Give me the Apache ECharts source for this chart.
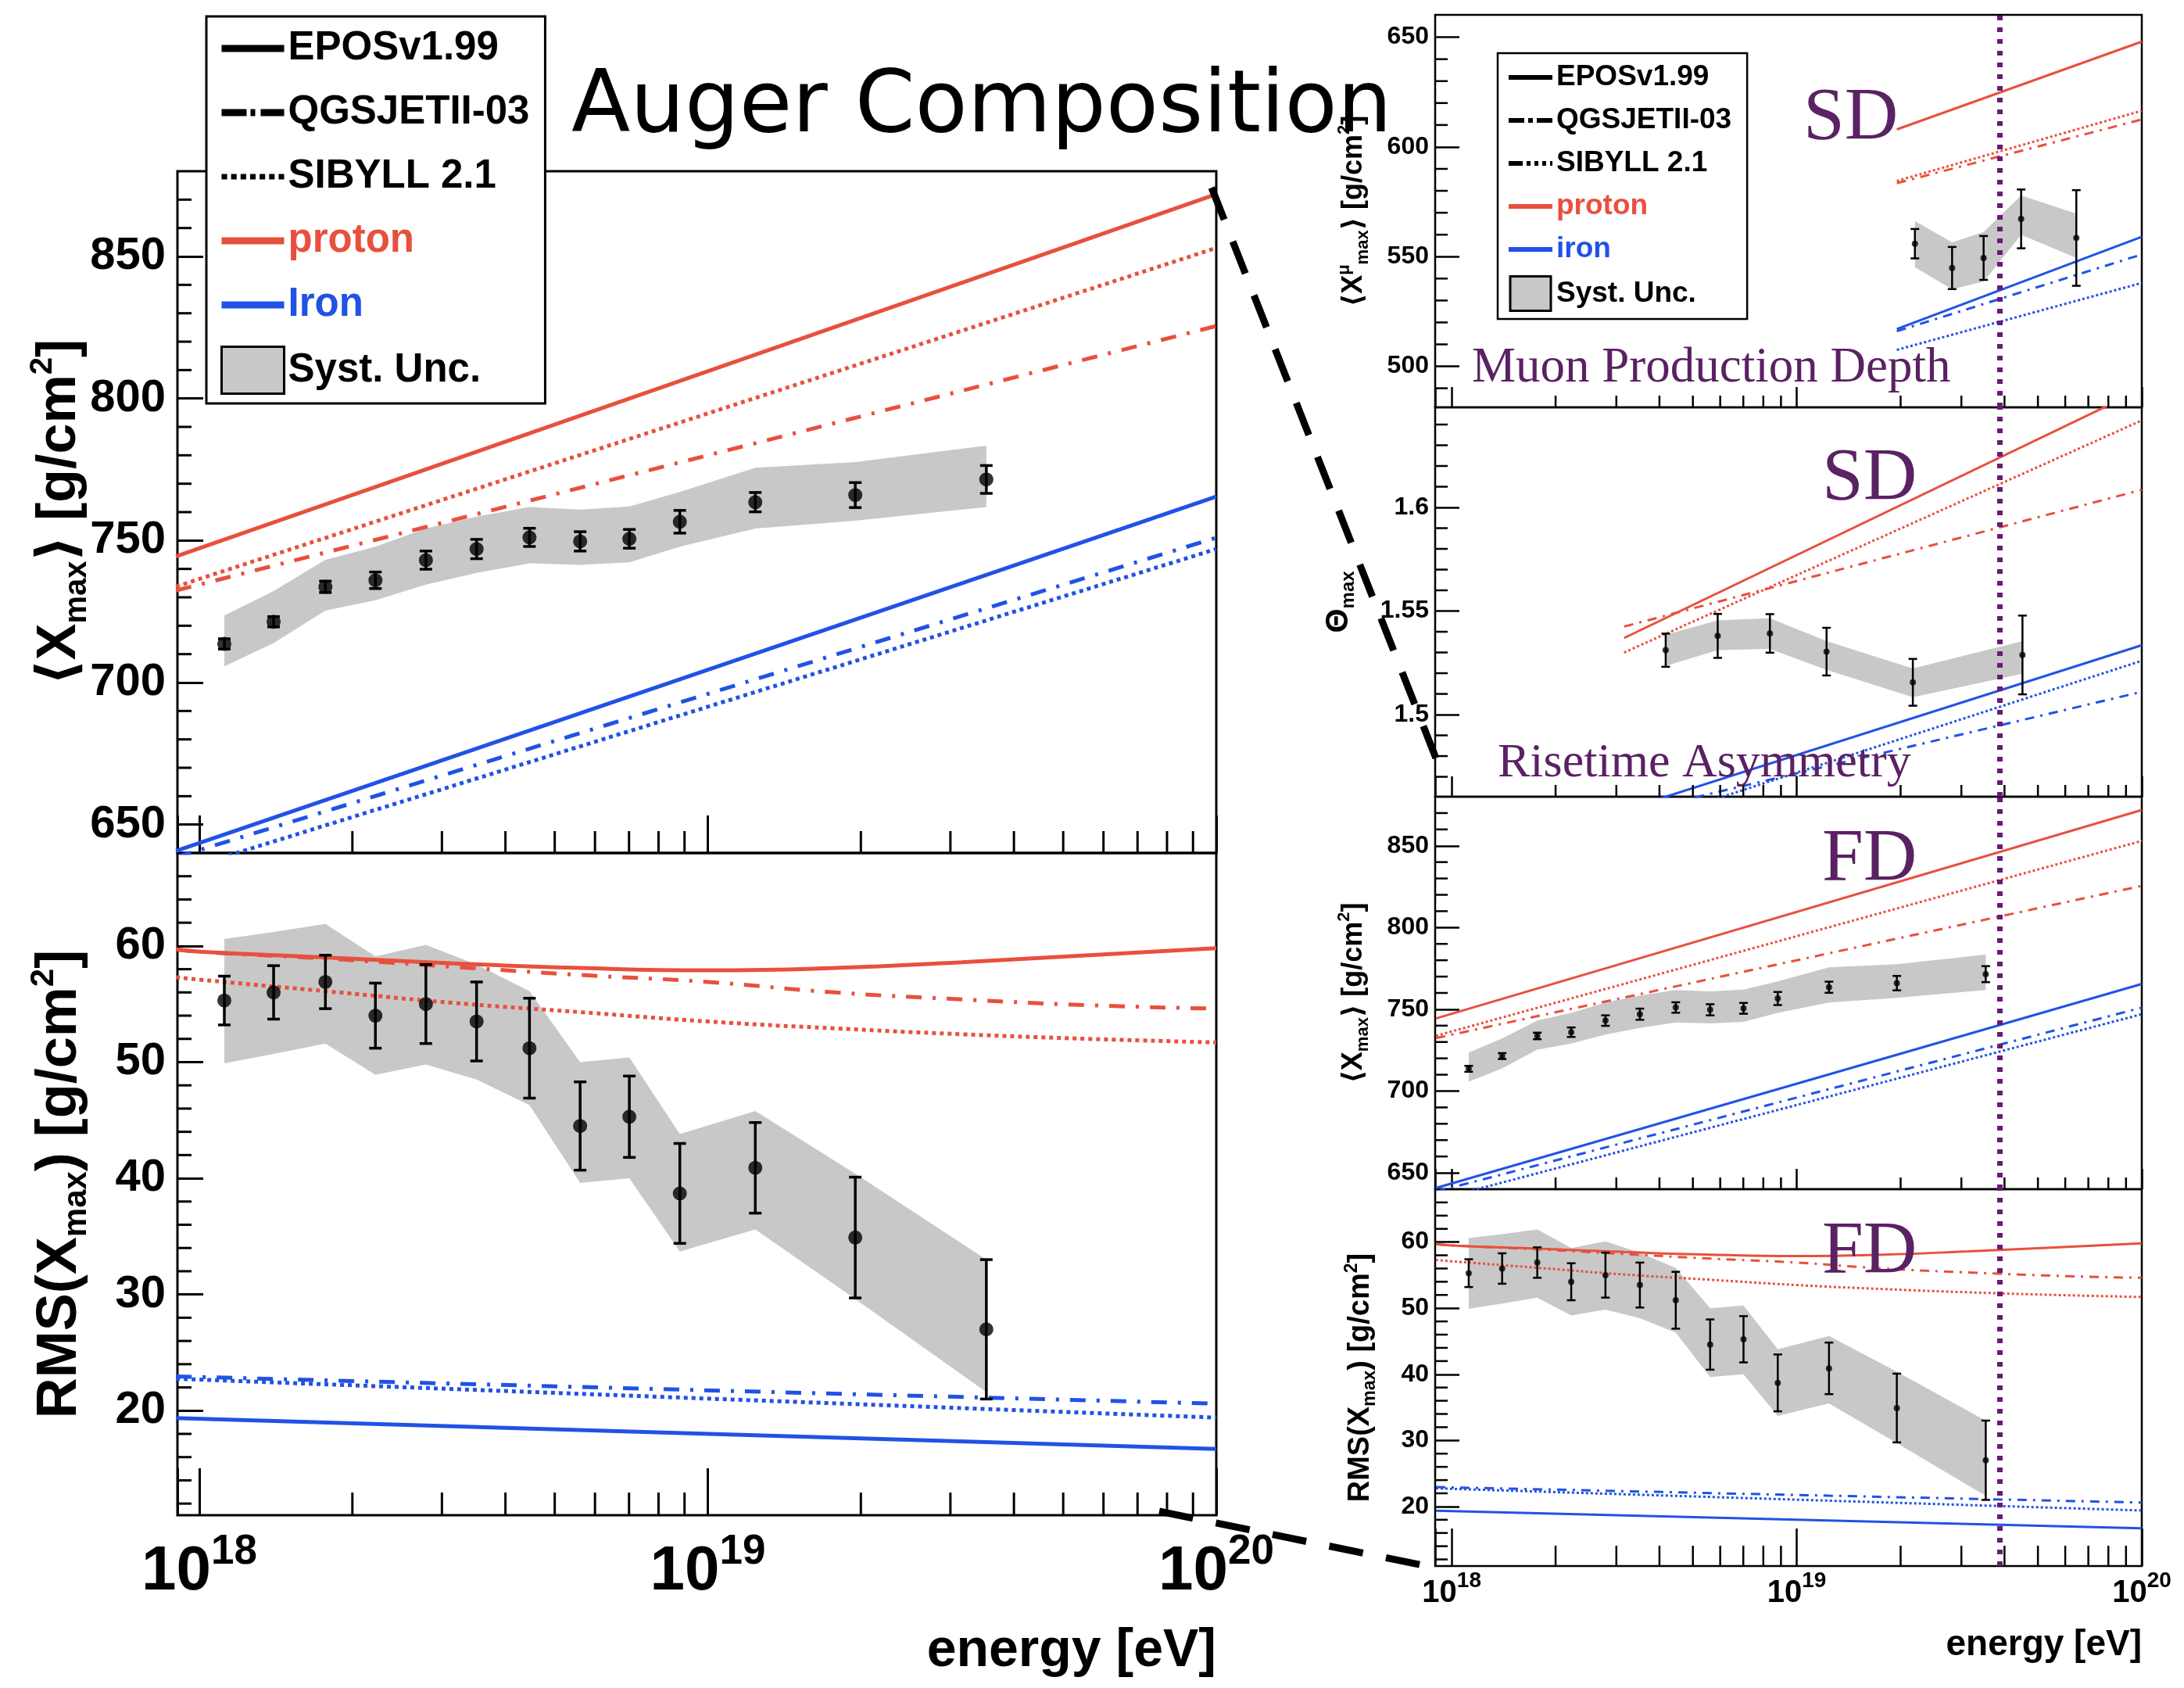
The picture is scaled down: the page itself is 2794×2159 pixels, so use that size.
<!DOCTYPE html>
<html>
<head>
<meta charset="utf-8">
<title>Auger Composition</title>
<script src="https://cdn.jsdelivr.net/npm/echarts@6.0.0/dist/echarts.min.js"></script>
<style>
html, body { margin:0; padding:0; background:#ffffff; }
#chart { width:2794px; height:2159px; }
</style>
</head>
<body>
<div id="chart"></div>
<script>
// ================= DATA =================
// FD energy bins [eV]
const fdEnergy = [1.12e18, 1.40e18, 1.77e18, 2.22e18, 2.79e18, 3.51e18, 4.46e18, 5.61e18, 7.01e18, 8.81e18, 1.24e19, 1.95e19, 3.53e19];
// <Xmax> [g/cm2]
const xmaxMean  = [713.6, 721.4, 733.7, 736.0, 743.1, 747.0, 751.1, 749.7, 750.6, 756.6, 763.5, 766.0, 771.5];
const xmaxStat  = [1.8, 1.8, 2.0, 2.9, 3.2, 3.4, 3.2, 3.4, 3.3, 4.0, 3.4, 4.4, 4.9];
const xmaxSysUp = [723.6, 732.2, 743.2, 747.8, 754.2, 758.4, 761.8, 760.9, 762.0, 767.1, 775.6, 777.6, 783.4];
const xmaxSysLo = [705.7, 713.9, 725.3, 729.0, 734.5, 738.6, 742.0, 741.4, 742.3, 747.8, 754.2, 757.0, 761.8];
// RMS(Xmax) [g/cm2]
const rmsMean  = [55.3, 56.0, 56.9, 54.0, 55.0, 53.5, 51.2, 44.5, 45.3, 38.7, 40.9, 34.9, 27.0];
const rmsStat  = [2.1, 2.3, 2.3, 2.8, 3.4, 3.4, 4.3, 3.8, 3.5, 4.3, 3.9, 5.2, 6.0];
const rmsSysUp = [60.6, 61.2, 61.9, 59.1, 60.1, 58.4, 56.1, 50.0, 50.4, 43.8, 45.8, 40.4, 33.0];
const rmsSysLo = [49.9, 50.7, 51.6, 48.9, 49.8, 48.5, 46.3, 39.6, 40.0, 33.7, 35.6, 29.6, 21.6];
// SD muon production depth <Xmax^mu> [g/cm2]
const mpdEnergy = [2.20e19, 2.82e19, 3.48e19, 4.47e19, 6.46e19];
const mpdMean   = [555.9, 544.8, 549.4, 567.2, 558.5];
const mpdStat   = [6.7, 9.6, 10.0, 13.4, 21.8];
const mpdSysUp  = [566.2, 556.5, 561.2, 577.9, 569.6];
const mpdSysLo  = [545.2, 535.1, 538.7, 560.0, 549.4];
// SD risetime asymmetry Theta_max
const riseEnergy = [4.17e18, 5.90e18, 8.36e18, 1.22e19, 2.17e19, 4.51e19];
const riseMean   = [1.5311, 1.5380, 1.5392, 1.5304, 1.5156, 1.5288];
const riseStat   = [0.008, 0.0106, 0.0093, 0.0115, 0.0113, 0.019];
const riseSysUp  = [1.5386, 1.5455, 1.5465, 1.5355, 1.5223, 1.5355];
const riseSysLo  = [1.5235, 1.5311, 1.5317, 1.5216, 1.5084, 1.5197];

// Model predictions
const modelEnergy = [9.0e17, 1e20];
const xmaxProtonEPOS   = [744.4, 871.9];
const xmaxProtonQGSJET = [732.4, 825.5];
const xmaxProtonSIBYLL = [733.8, 853.0];
const xmaxIronEPOS     = [640.7, 765.5];
const xmaxIronQGSJET   = [638.5, 751.0];
const xmaxIronSIBYLL   = [633.4, 747.0];

const rmsModelEnergy  = [9.0e17, 1e18, 1.78e18, 3.16e18, 5.62e18, 1e19, 1.78e19, 3.16e19, 5.62e19, 1e20];
const rmsProtonEPOS   = [59.7, 59.5, 59.0, 58.5, 58.1, 57.9, 58.1, 58.6, 59.2, 59.8];
const rmsProtonQGSJET = [59.7, 59.5, 58.9, 58.2, 57.5, 56.9, 56.0, 55.4, 54.9, 54.6];
const rmsProtonSIBYLL = [57.3, 57.1, 56.1, 55.1, 54.3, 53.5, 52.9, 52.4, 52.0, 51.7];
const rmsIronEPOS     = [19.36, 16.7];
const rmsIronQGSJET   = [22.95, 20.6];
const rmsIronSIBYLL   = [22.75, 19.4];

const mpdModelEnergy  = [1.95e19, 1e20];
const mpdProtonEPOS   = [608.0, 648.0];
const mpdProtonQGSJET = [583.5, 612.5];
const mpdProtonSIBYLL = [584.5, 616.5];
const mpdIronEPOS     = [517.0, 559.0];
const mpdIronQGSJET   = [516.0, 551.0];
const mpdIronSIBYLL   = [507.5, 538.0];

const riseModelEnergy  = [3.16e18, 1e20];
const riseProtonEPOS   = [1.537, 1.657];
const riseProtonQGSJET = [1.5425, 1.6085];
const riseProtonSIBYLL = [1.530, 1.642];
const riseIronEPOS     = [1.454, 1.5335];
const riseIronQGSJET   = [1.452, 1.511];
const riseIronSIBYLL   = [1.445, 1.526];

// vertical energy line on the right panels [eV]
const energyCut = 3.88e19;

// tick values
const energyMinorTicks = [2e18, 3e18, 4e18, 5e18, 6e18, 7e18, 8e18, 9e18, 2e19, 3e19, 4e19, 5e19, 6e19, 7e19, 8e19, 9e19];
const xmaxMinorTicks = [660, 670, 680, 690, 710, 720, 730, 740, 760, 770, 780, 790, 810, 820, 830, 840, 860, 870];
const rmsMinorTicks  = [12, 14, 16, 18, 22, 24, 26, 28, 32, 34, 36, 38, 42, 44, 46, 48, 52, 54, 56, 58, 62, 64, 66];
const mpdMinorTicks  = [490, 510, 520, 530, 540, 560, 570, 580, 590, 610, 620, 630, 640];
const riseMinorTicks = [1.47, 1.48, 1.49, 1.51, 1.52, 1.53, 1.54, 1.56, 1.57, 1.58, 1.59, 1.61, 1.62, 1.63, 1.64];

// ================= STYLE =================
const FONT = "'Liberation Sans', Arial, Helvetica, 'DejaVu Sans', sans-serif";
const NARROW = "'Liberation Sans Narrow', 'Liberation Sans', Arial, sans-serif";
const SERIF = "'Liberation Serif', 'Times New Roman', serif";
const RED = '#e8503e', BLUE = '#2152e6', BAND = '#c8c8c8', CUTC = '#6b1a78', PURPLE = '#5a2163';
const E_MAX = 1e20;
const X_MIN_L = Math.pow(10, 17.957);
const X_MIN_R = Math.pow(10, 17.952);

const ST_L = {lineW: 5, dot: [5, 5], dashdot: [20, 14, 4, 14], marker: 18, errW: 3.5, cap: 16, tickW: 3, frame: 3};
const ST_R = {lineW: 3, dot: [3, 3], dashdot: [12, 8, 3, 8], marker: 8, errW: 2.5, cap: 11, tickW: 2.5, frame: 2.5};

function richName(size, sub, lh) {
  const b = {fontFamily: FONT, fontWeight: 'bold', color: '#000'};
  return {
    t: Object.assign({fontSize: size, lineHeight: lh}, b),
    s: Object.assign({fontSize: sub, lineHeight: sub, verticalAlign: 'bottom'}, b),
    p: Object.assign({fontSize: sub, lineHeight: sub, verticalAlign: 'top'}, b)
  };
}
function powLabel(v) {
  const l = Math.log10(v);
  const n = Math.round(l);
  if (Math.abs(l - n) > 1e-4) return '';
  return '{b|10}{e|' + n + '}';
}
function bandItem(band) {
  return function (params, api) {
    if (params.dataIndex !== 0) return null;
    const up = band.e.map((e, k) => api.coord([e, band.hi[k]]));
    const dn = band.e.map((e, k) => api.coord([e, band.lo[k]])).reverse();
    return {type: 'polygon', shape: {points: up.concat(dn)}, style: {fill: BAND}};
  };
}
function errItem(st) {
  return function (params, api) {
    const x = api.value(0);
    const a = api.coord([x, api.value(1)]);
    const b = api.coord([x, api.value(2)]);
    const h = st.cap / 2;
    const s = () => ({stroke: '#000', lineWidth: st.errW});
    return {type: 'group', children: [
      {type: 'line', shape: {x1: a[0], y1: a[1], x2: b[0], y2: b[1]}, style: s()},
      {type: 'line', shape: {x1: a[0] - h, y1: a[1], x2: a[0] + h, y2: a[1]}, style: s()},
      {type: 'line', shape: {x1: b[0] - h, y1: b[1], x2: b[0] + h, y2: b[1]}, style: s()}
    ]};
  };
}

const grids = [], xAxes = [], yAxes = [], series = [];

function panel(cfg) {
  const i = grids.length;
  const st = cfg.st;
  grids.push({left: cfg.rect[0], top: cfg.rect[1], width: cfg.rect[2], height: cfg.rect[3],
    show: true, borderColor: '#000', borderWidth: st.frame, backgroundColor: 'rgba(0,0,0,0)',
    containLabel: false, outerBoundsMode: 'none'});

  const xa = {
    type: 'log', logBase: 10, gridIndex: i, min: cfg.xMin, max: E_MAX, splitNumber: 10,
    axisLine: {show: false}, splitLine: {show: false}, minorTick: {show: false},
    axisTick: {show: true, inside: true, length: cfg.xTick[0], lineStyle: {color: '#000', width: st.tickW}},
    axisLabel: {show: false}
  };
  if (cfg.xLab) {
    xa.axisLabel = {
      show: true, margin: cfg.xLab.margin, formatter: powLabel, showMinLabel: true, showMaxLabel: true,
      rich: {
        b: {fontSize: cfg.xLab.size, lineHeight: cfg.xLab.lh, fontWeight: 'bold', fontFamily: NARROW, color: '#000'},
        e: {fontSize: cfg.xLab.sup, lineHeight: cfg.xLab.sup, verticalAlign: 'top', fontWeight: 'bold', fontFamily: NARROW, color: '#000'}
      }
    };
    xa.name = 'energy [eV]';
    xa.nameLocation = 'end';
    xa.nameGap = 0;
    xa.nameMoveOverlap = false;
    xa.nameTextStyle = {fontSize: cfg.xLab.nameSize, lineHeight: cfg.xLab.nameSize, fontWeight: 'bold', fontFamily: FONT, color: '#000',
      align: 'right', verticalAlign: 'top', padding: [cfg.xLab.namePad, 0, 0, 0]};
  }
  xAxes.push(xa);

  yAxes.push({
    type: 'value', gridIndex: i, min: cfg.y[0], max: cfg.y[1], splitNumber: cfg.split,
    axisLine: {show: false}, splitLine: {show: false},
    axisTick: {show: true, inside: true, length: cfg.yTick[0], lineStyle: {color: '#000', width: st.tickW}},
    axisLabel: {show: true, margin: cfg.yLab.margin, fontSize: cfg.yLab.size, fontWeight: 'bold', fontFamily: FONT, color: '#000',
      showMinLabel: false, showMaxLabel: false},
    name: cfg.yName.text, nameLocation: 'middle', nameGap: cfg.yName.gap, nameMoveOverlap: false,
    nameTextStyle: {rich: cfg.yName.rich}
  });

  const base = {xAxisIndex: i, yAxisIndex: i, silent: true, animation: false};
  // systematic band
  series.push(Object.assign({type: 'custom', z: 1,
    data: cfg.band.e.map((e, k) => [e, cfg.band.lo[k], cfg.band.hi[k]]),
    encode: {x: 0, y: [1, 2]}, renderItem: bandItem(cfg.band)}, base));
  // model lines
  cfg.models.forEach(m => {
    series.push(Object.assign({type: 'line', z: 2, symbol: 'none', showSymbol: false, clip: true,
      smooth: m.smooth ? true : false,
      data: m.e.map((e, k) => [e, m.v[k]]),
      lineStyle: {color: m.c, width: st.lineW, cap: 'butt',
        type: m.k === 'solid' ? 'solid' : (m.k === 'dot' ? st.dot : st.dashdot)}}, base));
  });
  // statistical error bars
  series.push(Object.assign({type: 'custom', z: 3,
    data: cfg.pts.e.map((e, k) => [e, cfg.pts.m[k] - cfg.pts.s[k], cfg.pts.m[k] + cfg.pts.s[k]]),
    encode: {x: 0, y: [1, 2]}, renderItem: errItem(st)}, base));
  // points
  const pts = Object.assign({type: 'scatter', z: 4, symbol: 'circle', symbolSize: st.marker,
    itemStyle: {color: '#000'}, data: cfg.pts.e.map((e, k) => [e, cfg.pts.m[k]])}, base);
  if (cfg.cut) {
    pts.markLine = {silent: true, symbol: ['none', 'none'], animation: false, z: 8,
      label: {show: false},
      lineStyle: {color: CUTC, width: 7, type: [6, 9], cap: 'butt'},
      emphasis: {disabled: true},
      data: [{xAxis: energyCut}]};
  }
  series.push(pts);
  // minor ticks
  series.push(Object.assign({type: 'custom', z: 5,
    data: cfg.yMinor.map(v => [cfg.xMin, v]),
    renderItem: (p, api) => {
      const c = api.coord([api.value(0), api.value(1)]);
      return {type: 'line', shape: {x1: c[0], y1: c[1], x2: c[0] + cfg.yTick[1], y2: c[1]}, style: {stroke: '#000', lineWidth: st.tickW}};
    }}, base));
  series.push(Object.assign({type: 'custom', z: 5,
    data: energyMinorTicks.map(e => [e, cfg.y[0]]),
    renderItem: (p, api) => {
      const c = api.coord([api.value(0), api.value(1)]);
      return {type: 'line', shape: {x1: c[0], y1: c[1], x2: c[0], y2: c[1] - cfg.xTick[1]}, style: {stroke: '#000', lineWidth: st.tickW}};
    }}, base));
}

function modelSet(e, pE, pQ, pS, eI, fE, fQ, fS, smoothP) {
  return [
    {e: e, v: pE, c: RED, k: 'solid', smooth: smoothP},
    {e: e, v: pQ, c: RED, k: 'dashdot', smooth: smoothP},
    {e: e, v: pS, c: RED, k: 'dot', smooth: smoothP},
    {e: eI, v: fE, c: BLUE, k: 'solid'},
    {e: eI, v: fQ, c: BLUE, k: 'dashdot'},
    {e: eI, v: fS, c: BLUE, k: 'dot'}
  ];
}

const NAME_XMAX = '{t|⟨X}{s|max}{t|⟩ [g/cm}{p|2}{t|]}';
const NAME_RMS = '{t|RMS(X}{s|max}{t|) [g/cm}{p|2}{t|]}';

// ---- Left: <Xmax>
panel({rect: [227, 219, 1329, 872], st: ST_L, xMin: X_MIN_L, y: [640, 880], split: 5,
  xTick: [48, 28], yTick: [33, 18], yMinor: xmaxMinorTicks,
  yLab: {size: 58, margin: 15},
  yName: {text: NAME_XMAX, gap: 108, rich: richName(70, 40, 84)},
  band: {e: fdEnergy, lo: xmaxSysLo, hi: xmaxSysUp},
  models: modelSet(modelEnergy, xmaxProtonEPOS, xmaxProtonQGSJET, xmaxProtonSIBYLL, modelEnergy, xmaxIronEPOS, xmaxIronQGSJET, xmaxIronSIBYLL, false),
  pts: {e: fdEnergy, m: xmaxMean, s: xmaxStat}, cut: false});
// ---- Left: RMS
panel({rect: [227, 1091, 1329, 847], st: ST_L, xMin: X_MIN_L, y: [11, 68], split: 5,
  xTick: [60, 29], yTick: [33, 18], yMinor: rmsMinorTicks,
  xLab: {size: 80, sup: 53, lh: 103, margin: 21, nameSize: 68, namePad: 140},
  yLab: {size: 58, margin: 15},
  yName: {text: NAME_RMS, gap: 108, rich: richName(72, 42, 84)},
  band: {e: fdEnergy, lo: rmsSysLo, hi: rmsSysUp},
  models: modelSet(rmsModelEnergy, rmsProtonEPOS, rmsProtonQGSJET, rmsProtonSIBYLL, modelEnergy, rmsIronEPOS, rmsIronQGSJET, rmsIronSIBYLL, true),
  pts: {e: fdEnergy, m: rmsMean, s: rmsStat}, cut: false});
// ---- Right: MPD
panel({rect: [1836, 19, 904, 502], st: ST_R, xMin: X_MIN_R, y: [481.3, 660.2], split: 4,
  xTick: [26, 15], yTick: [31, 16], yMinor: mpdMinorTicks,
  yLab: {size: 32, margin: 8},
  yName: {text: '{t|⟨X}{p|μ}{s|max}{t|⟩ [g/cm}{p|2}{t|]}', gap: 81, rich: richName(36, 22, 46)},
  band: {e: mpdEnergy, lo: mpdSysLo, hi: mpdSysUp},
  models: modelSet(mpdModelEnergy, mpdProtonEPOS, mpdProtonQGSJET, mpdProtonSIBYLL, mpdModelEnergy, mpdIronEPOS, mpdIronQGSJET, mpdIronSIBYLL, false),
  pts: {e: mpdEnergy, m: mpdMean, s: mpdStat}, cut: true});
// ---- Right: Risetime
panel({rect: [1836, 521, 904, 498], st: ST_R, xMin: X_MIN_R, y: [1.4604, 1.6483], split: 4,
  xTick: [26, 15], yTick: [31, 16], yMinor: riseMinorTicks,
  yLab: {size: 32, margin: 8},
  yName: {text: '{t|Θ}{s|max}', gap: 99, rich: richName(40, 24, 48)},
  band: {e: riseEnergy, lo: riseSysLo, hi: riseSysUp},
  models: modelSet(riseModelEnergy, riseProtonEPOS, riseProtonQGSJET, riseProtonSIBYLL, riseModelEnergy, riseIronEPOS, riseIronQGSJET, riseIronSIBYLL, false),
  pts: {e: riseEnergy, m: riseMean, s: riseStat}, cut: true});
// ---- Right: FD <Xmax>
panel({rect: [1836, 1019, 904, 502], st: ST_R, xMin: X_MIN_R, y: [640, 880], split: 5,
  xTick: [26, 15], yTick: [31, 16], yMinor: xmaxMinorTicks,
  yLab: {size: 32, margin: 8},
  yName: {text: NAME_XMAX, gap: 81, rich: richName(36, 22, 46)},
  band: {e: fdEnergy, lo: xmaxSysLo, hi: xmaxSysUp},
  models: modelSet(modelEnergy, xmaxProtonEPOS, xmaxProtonQGSJET, xmaxProtonSIBYLL, modelEnergy, xmaxIronEPOS, xmaxIronQGSJET, xmaxIronSIBYLL, false),
  pts: {e: fdEnergy, m: xmaxMean, s: xmaxStat}, cut: true});
// ---- Right: FD RMS
panel({rect: [1836, 1521, 904, 482], st: ST_R, xMin: X_MIN_R, y: [11, 68], split: 5,
  xTick: [48, 26], yTick: [31, 16], yMinor: rmsMinorTicks,
  xLab: {size: 40, sup: 28, lh: 60, margin: 5, nameSize: 46, namePad: 78},
  yLab: {size: 32, margin: 8},
  yName: {text: NAME_RMS, gap: 72, rich: richName(38, 23, 46)},
  band: {e: fdEnergy, lo: rmsSysLo, hi: rmsSysUp},
  models: modelSet(rmsModelEnergy, rmsProtonEPOS, rmsProtonQGSJET, rmsProtonSIBYLL, modelEnergy, rmsIronEPOS, rmsIronQGSJET, rmsIronSIBYLL, true),
  pts: {e: fdEnergy, m: rmsMean, s: rmsStat}, cut: true});

// legend entries (empty series carrying the legend names)
['EPOSv1.99', 'QGSJETII-03', 'SIBYLL 2.1', 'proton', 'Iron', 'iron', 'Syst. Unc.'].forEach(n => {
  series.push({type: 'line', name: n, data: [], xAxisIndex: 0, yAxisIndex: 0, silent: true, animation: false});
});

const iconL = {
  solid: 'path://M0,0H80V9H0Z',
  dashdot: 'path://M0,0H32V9H0ZM37,0H43V9H37ZM50,0H80V9H50Z',
  dot: 'path://M0,1H7V8H0ZM12,1H19V8H12ZM24,1H31V8H24ZM36,1H43V8H36ZM48,1H55V8H48ZM60,1H67V8H60ZM72,1H79V8H72Z',
  box: 'path://M0,0H80V60H0Z'
};
const iconR = {
  solid: 'path://M0,0H56V6H0Z',
  dashdot: 'path://M0,0H20V6H0ZM25,0H31V6H25ZM36,0H56V6H36Z',
  dot: 'path://M0,0H18V6H0ZM23,0H28V6H23ZM33,0H38V6H33ZM43,0H48V6H43ZM53,0H56V6H53Z',
  box: 'path://M0,0H52V44H0Z'
};
function legendData(ic, ironName) {
  const k = {color: '#000', borderWidth: 0};
  return [
    {name: 'EPOSv1.99', icon: ic.solid, itemStyle: k},
    {name: 'QGSJETII-03', icon: ic.dashdot, itemStyle: k},
    {name: 'SIBYLL 2.1', icon: ic.dot, itemStyle: k},
    {name: 'proton', icon: ic.solid, itemStyle: {color: RED, borderWidth: 0}, textStyle: {color: RED}},
    {name: ironName, icon: ic.solid, itemStyle: {color: BLUE, borderWidth: 0}, textStyle: {color: BLUE}},
    {name: 'Syst. Unc.', icon: ic.box, itemStyle: {color: BAND, borderColor: '#000', borderWidth: 3}}
  ];
}

const option = {
  backgroundColor: '#ffffff',
  animation: false,
  tooltip: {show: false},
  grid: grids, xAxis: xAxes, yAxis: yAxes, series: series,
  legend: [
    {orient: 'vertical', left: 264, top: 21, itemWidth: 80, itemHeight: 60, itemGap: 22,
     padding: [11, 20, 11, 18], backgroundColor: '#fff', borderColor: '#000', borderWidth: 3, borderRadius: 0,
     selectedMode: false, z: 20, symbolKeepAspect: true,
     textStyle: {fontFamily: FONT, fontWeight: 'bold', fontSize: 51, lineHeight: 60, color: '#000'},
     data: legendData(iconL, 'Iron')},
    {orient: 'vertical', left: 1916, top: 68, itemWidth: 56, itemHeight: 44, itemGap: 11,
     padding: [9, 20, 9, 14], backgroundColor: '#fff', borderColor: '#000', borderWidth: 2.5, borderRadius: 0,
     selectedMode: false, z: 20, symbolKeepAspect: true,
     textStyle: {fontFamily: FONT, fontWeight: 'bold', fontSize: 37, lineHeight: 44, color: '#000'},
     data: legendData(iconR, 'iron')}
  ],
  graphic: [
    {type: 'text', x: 731, y: 139, z: 30, silent: true,
     style: {text: 'Auger Composition', fontFamily: "'DejaVu Sans', sans-serif", fontSize: 110, fill: '#000', align: 'left', verticalAlign: 'middle'}},
    {type: 'text', x: 2307, y: 153, z: 30, silent: true,
     style: {text: 'SD', fontFamily: SERIF, fontSize: 95, fill: PURPLE, align: 'left', verticalAlign: 'middle'}},
    {type: 'text', x: 2331, y: 614, z: 30, silent: true,
     style: {text: 'SD', fontFamily: SERIF, fontSize: 95, fill: PURPLE, align: 'left', verticalAlign: 'middle'}},
    {type: 'text', x: 2331, y: 1101, z: 30, silent: true,
     style: {text: 'FD', fontFamily: SERIF, fontSize: 95, fill: PURPLE, align: 'left', verticalAlign: 'middle'}},
    {type: 'text', x: 2331, y: 1603, z: 30, silent: true,
     style: {text: 'FD', fontFamily: SERIF, fontSize: 95, fill: PURPLE, align: 'left', verticalAlign: 'middle'}},
    {type: 'text', x: 1883, y: 471, z: 30, silent: true,
     style: {text: 'Muon Production Depth', fontFamily: SERIF, fontSize: 63, fill: PURPLE, align: 'left', verticalAlign: 'middle'}},
    {type: 'text', x: 1916, y: 977, z: 30, silent: true,
     style: {text: 'Risetime Asymmetry', fontFamily: SERIF, fontSize: 62, fill: PURPLE, align: 'left', verticalAlign: 'middle'}},
    {type: 'line', z: 40, silent: true, shape: {x1: 1550, y1: 240, x2: 1845, y2: 990},
     style: {stroke: '#000', lineWidth: 9, lineDash: [44, 30]}},
    {type: 'line', z: 40, silent: true, shape: {x1: 1483, y1: 1933, x2: 1835, y2: 2005},
     style: {stroke: '#000', lineWidth: 9, lineDash: [44, 30]}}
  ]
};

const chart = echarts.init(document.getElementById('chart'), null, {renderer: 'canvas', width: 2794, height: 2159});
chart.setOption(option);
</script>
</body>
</html>
